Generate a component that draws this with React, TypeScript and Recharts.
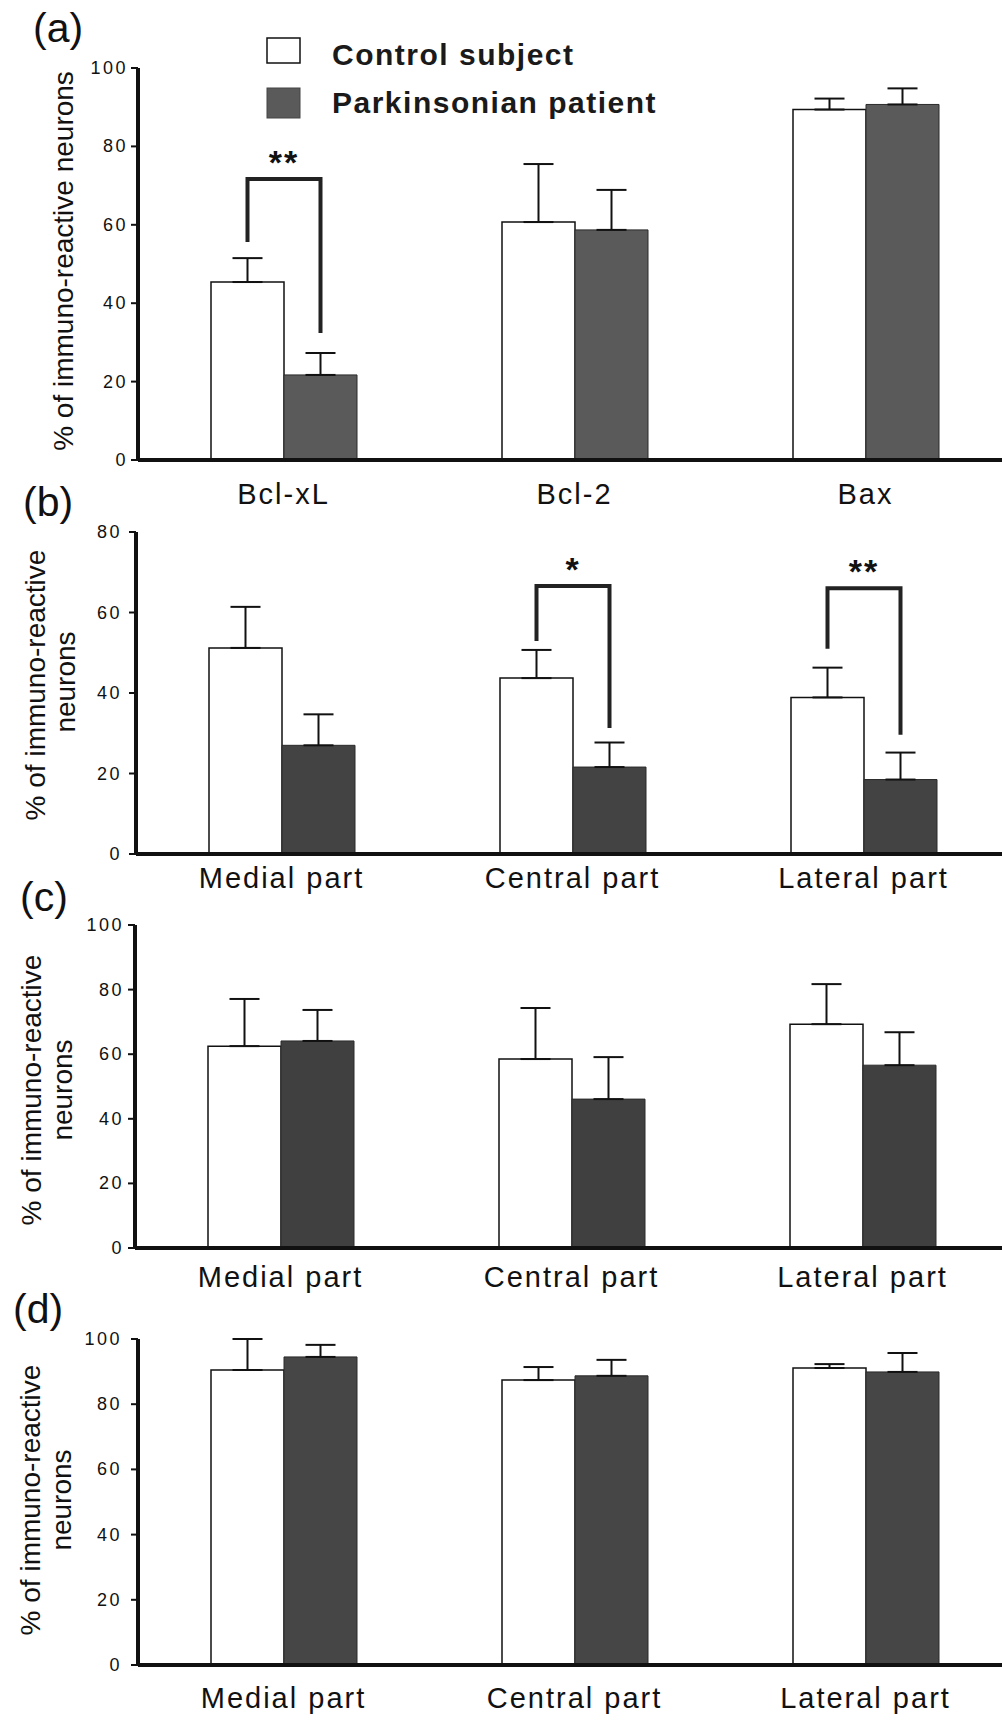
import React from 'react';
import { BarChart, Bar, XAxis, YAxis, ErrorBar, LabelList, Legend } from 'recharts';

// ---------- data ----------
const catsA = ['Bcl-xL', 'Bcl-2', 'Bax'];
const catsParts = ['Medial part', 'Central part', 'Lateral part'];

const ctrlA = [45.4, 60.7, 89.4];
const ctrlErrA = [6.1, 14.8, 2.8];
const parkA = [21.7, 58.7, 90.7];
const parkErrA = [5.6, 10.2, 4.1];

const ctrlB = [51.2, 43.7, 38.9];
const ctrlErrB = [10.2, 7.0, 7.4];
const parkB = [27.0, 21.6, 18.5];
const parkErrB = [7.7, 6.1, 6.7];

const ctrlC = [62.5, 58.5, 69.3];
const ctrlErrC = [14.6, 15.8, 12.4];
const parkC = [64.1, 46.1, 56.6];
const parkErrC = [9.6, 13.0, 10.2];

const ctrlD = [90.5, 87.4, 91.1];
const ctrlErrD = [9.5, 4.0, 1.2];
const parkD = [94.5, 88.7, 89.9];
const parkErrD = [3.7, 4.9, 5.8];

// significance brackets (values in % units)
const sigA = ['**', null, null];
const bracketTopA = [71.7, null, null];
const bracketLeftA = [55.6, null, null];
const bracketRightA = [32.4, null, null];

const sigB = [null, '*', '**'];
const bracketTopB = [null, 66.6, 66.0];
const bracketLeftB = [null, 52.9, 51.0];
const bracketRightB = [null, 31.3, 29.6];

const noSig = [null, null, null];

const ticks100 = [0, 20, 40, 60, 80, 100];
const ticks80 = [0, 20, 40, 60, 80];

const legendLabels = ['Control subject', 'Parkinsonian patient'];
const yTitleFull = '% of immuno-reactive neurons';
const yTitle1 = '% of immuno-reactive';
const yTitle2 = 'neurons';

const FONT = '"Liberation Sans", Arial, Helvetica, sans-serif';

function buildData(cats, ctrl, ctrlErr, park, parkErr, sig, bTop, bL, bR) {
  return cats.map((c, i) => ({
    cat: c,
    ctrl: ctrl[i],
    ctrlErr: [0, ctrlErr[i]],
    park: park[i],
    parkErr: [0, parkErr[i]],
    sig: sig[i],
    bTop: bTop ? bTop[i] : null,
    bL: bL ? bL[i] : null,
    bR: bR ? bR[i] : null,
  }));
}

function Panel(props) {
  const {
    data, axisX, plotTop, plotH, yMax, yTicks, parkFill, xLabelOffset, tickGap, mTop, legend,
  } = props;
  const xAxisH = 60;
  const chartW = axisX + 873;
  const chartH = mTop + plotH + xAxisH;
  const chartTop = plotTop - mTop;

  const XTick = (p) => (
    <text
      x={p.x}
      y={mTop + plotH + xLabelOffset}
      textAnchor="middle"
      fontFamily={FONT}
      fontSize={29}
      letterSpacing={2}
      fill="#111"
    >
      {p.payload.value}
    </text>
  );

  const YTick = (p) => (
    <text
      x={axisX - tickGap + 2}
      y={p.y}
      textAnchor="end"
      dominantBaseline="central"
      fontFamily={FONT}
      fontSize={18}
      letterSpacing={2.5}
      fill="#111"
    >
      {p.payload.value}
    </text>
  );

  const renderBracket = (p) => {
    const idx = p.index;
    const d = data[idx];
    if (!d || !d.sig) return null;
    const vb = p.viewBox || {};
    const x = vb.x != null ? vb.x : p.x;
    const y = vb.y != null ? vb.y : p.y;
    const width = vb.width != null ? vb.width : p.width;
    const height = vb.height != null ? vb.height : p.height;
    const value = d.park;
    const ppu = height / value;
    const base = y + height;
    const yT = base - d.bTop * ppu;
    const yL = base - d.bL * ppu;
    const yR = base - d.bR * ppu;
    const xl = x - width / 2;
    const xr = x + width / 2;
    return (
      <g>
        <path
          d={`M${xl},${yL} V${yT} H${xr} V${yR}`}
          stroke="#222"
          strokeWidth={4}
          fill="none"
        />
        <text
          x={(xl + xr) / 2}
          y={yT - 5}
          textAnchor="middle"
          fontFamily={FONT}
          fontWeight="bold"
          fontSize={34}
          letterSpacing={2}
          fill="#111"
        >
          {d.sig}
        </text>
      </g>
    );
  };

  const legendContent = () => (
    <svg width={420} height={95} style={{ display: 'block', overflow: 'visible' }}>
      <rect x={1} y={2} width={33} height={25} fill="#fff" stroke="#111" strokeWidth={1.5} />
      <rect x={1} y={52} width={33} height={30} fill="#5a5a5a" stroke="#444" strokeWidth={1} />
      <text x={66} y={29} fontFamily={FONT} fontWeight="bold" fontSize={30} letterSpacing={1.5} fill="#1a1a1a">
        {legendLabels[0]}
      </text>
      <text x={66} y={77} fontFamily={FONT} fontWeight="bold" fontSize={30} letterSpacing={1.5} fill="#1a1a1a">
        {legendLabels[1]}
      </text>
    </svg>
  );

  return (
    <div style={{ position: 'absolute', left: 0, top: chartTop }}>
      <BarChart
        width={chartW}
        height={chartH}
        data={data}
        margin={{ top: mTop, right: 0, left: 0, bottom: 0 }}
        barGap={0}
      >
        <XAxis
          dataKey="cat"
          height={xAxisH}
          interval={0}
          tickLine={false}
          tickSize={0}
          axisLine={{ stroke: '#111', strokeWidth: 4 }}
          tick={<XTick />}
        />
        <YAxis
          width={axisX}
          domain={[0, yMax]}
          ticks={yTicks}
          allowDataOverflow
          tickSize={7}
          tickLine={{ stroke: '#111', strokeWidth: 2 }}
          axisLine={{ stroke: '#111', strokeWidth: 4 }}
          tick={<YTick />}
        />
        {legend ? (
          <Legend
            verticalAlign="middle"
            layout="horizontal"
            align="center"
            wrapperStyle={{ position: 'absolute', left: 266, top: 36 - chartTop, width: 420, height: 95 }}
            content={legendContent}
          />
        ) : null}
        <Bar
          dataKey="ctrl"
          fill="#ffffff"
          stroke="#111"
          strokeWidth={1.5}
          barSize={73}
          isAnimationActive={false}
        >
          <ErrorBar dataKey="ctrlErr" width={15} stroke="#111" strokeWidth={2} direction="y" />
        </Bar>
        <Bar
          dataKey="park"
          fill={parkFill}
          stroke="#2a2a2a"
          strokeWidth={1}
          barSize={73}
          isAnimationActive={false}
        >
          <ErrorBar dataKey="parkErr" width={15} stroke="#111" strokeWidth={2} direction="y" />
          <LabelList dataKey="park" content={renderBracket} />
        </Bar>
      </BarChart>
    </div>
  );
}

const dataA = buildData(catsA, ctrlA, ctrlErrA, parkA, parkErrA, sigA, bracketTopA, bracketLeftA, bracketRightA);
const dataB = buildData(catsParts, ctrlB, ctrlErrB, parkB, parkErrB, sigB, bracketTopB, bracketLeftB, bracketRightB);
const dataC = buildData(catsParts, ctrlC, ctrlErrC, parkC, parkErrC, noSig, null, null, null);
const dataD = buildData(catsParts, ctrlD, ctrlErrD, parkD, parkErrD, noSig, null, null, null);

export default function App() {
  const labelStyle = { fontFamily: FONT, fill: '#111' };
  return (
    <div
      style={{
        position: 'absolute',
        left: 0,
        top: 0,
        width: 1002,
        height: 1725,
        overflow: 'hidden',
        background: '#fff',
      }}
    >
      <Panel data={dataA} axisX={138} plotTop={68} plotH={392} yMax={100} yTicks={ticks100}
        parkFill="#5a5a5a" xLabelOffset={44} tickGap={12} mTop={40} legend />
      <Panel data={dataB} axisX={136} plotTop={532} plotH={322} yMax={80} yTicks={ticks80}
        parkFill="#434343" xLabelOffset={34} tickGap={16} mTop={10} />
      <Panel data={dataC} axisX={135} plotTop={925} plotH={323} yMax={100} yTicks={ticks100}
        parkFill="#404040" xLabelOffset={39} tickGap={13} mTop={10} />
      <Panel data={dataD} axisX={138} plotTop={1339} plotH={326} yMax={100} yTicks={ticks100}
        parkFill="#464646" xLabelOffset={43} tickGap={18} mTop={10} />

      <svg
        width={1002}
        height={1725}
        style={{ position: 'absolute', left: 0, top: 0, pointerEvents: 'none' }}
      >
        <text x={33} y={42} fontSize={41} {...labelStyle}>(a)</text>
        <text x={23} y={516} fontSize={41} {...labelStyle}>(b)</text>
        <text x={20} y={911} fontSize={41} {...labelStyle}>(c)</text>
        <text x={13} y={1323} fontSize={41} {...labelStyle}>(d)</text>

        <text x={63} y={261} fontSize={28} textAnchor="middle" dominantBaseline="central"
          transform="rotate(-90 63 261)" {...labelStyle}>{yTitleFull}</text>

        <text x={35} y={685} fontSize={28} textAnchor="middle" dominantBaseline="central"
          transform="rotate(-90 35 685)" {...labelStyle}>{yTitle1}</text>
        <text x={65} y={682} fontSize={28} textAnchor="middle" dominantBaseline="central"
          transform="rotate(-90 65 682)" {...labelStyle}>{yTitle2}</text>

        <text x={31} y={1090} fontSize={28} textAnchor="middle" dominantBaseline="central"
          transform="rotate(-90 31 1090)" {...labelStyle}>{yTitle1}</text>
        <text x={62} y={1090} fontSize={28} textAnchor="middle" dominantBaseline="central"
          transform="rotate(-90 62 1090)" {...labelStyle}>{yTitle2}</text>

        <text x={30} y={1500} fontSize={28} textAnchor="middle" dominantBaseline="central"
          transform="rotate(-90 30 1500)" {...labelStyle}>{yTitle1}</text>
        <text x={61} y={1500} fontSize={28} textAnchor="middle" dominantBaseline="central"
          transform="rotate(-90 61 1500)" {...labelStyle}>{yTitle2}</text>
      </svg>
    </div>
  );
}
